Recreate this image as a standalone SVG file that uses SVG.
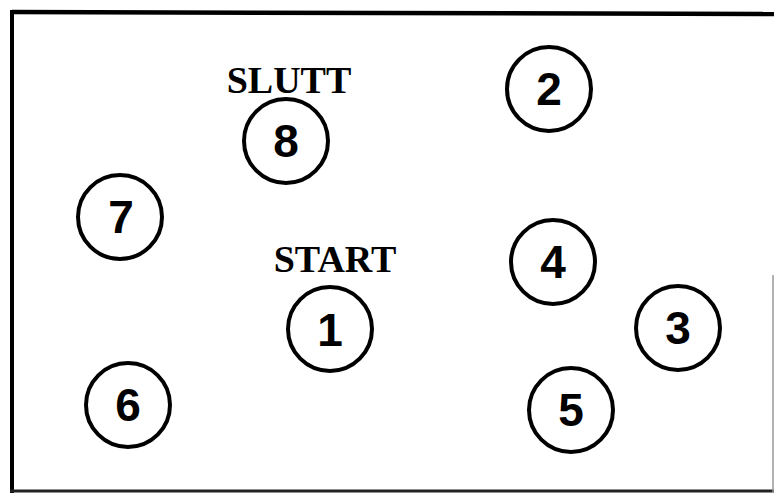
<svg xmlns="http://www.w3.org/2000/svg" width="774" height="493" viewBox="0 0 774 493">
<style>
.node circle{fill:none;stroke:#000;stroke-width:4}
.num{font-family:"Liberation Sans",Arial,sans-serif;font-weight:bold;font-size:46px;text-anchor:middle;fill:#000}
.lbl{font-family:"Liberation Serif","Times New Roman",serif;font-weight:bold;font-size:38px;text-anchor:middle;fill:#000}
</style>
<rect width="774" height="493" fill="#fff"/>
<g id="frame">
<line x1="12" y1="12" x2="774" y2="14" stroke="#000" stroke-width="4.5"/>
<line x1="12" y1="10" x2="12" y2="493" stroke="#000" stroke-width="4"/>
<line x1="10" y1="491" x2="774" y2="491" stroke="#222" stroke-width="3"/>
<line x1="773" y1="275" x2="773" y2="493" stroke="#999" stroke-width="1.5"/>
</g>
<g id="connectors"></g>
<g id="n8" class="node"><text class="lbl" x="289" y="93">SLUTT</text><circle cx="286" cy="141" r="42"/><text class="num" x="286" y="157">8</text></g>
<g id="n2" class="node"><circle cx="549" cy="89" r="42"/><text class="num" x="549" y="105">2</text></g>
<g id="n7" class="node"><circle cx="120" cy="217" r="42"/><text class="num" x="121" y="233">7</text></g>
<g id="n4" class="node"><circle cx="553" cy="262" r="42"/><text class="num" x="553" y="278">4</text></g>
<g id="n1" class="node"><text class="lbl" x="335" y="272">START</text><circle cx="330" cy="329" r="42"/><text class="num" x="330" y="346">1</text></g>
<g id="n3" class="node"><circle cx="678" cy="328" r="42"/><text class="num" x="678" y="344">3</text></g>
<g id="n6" class="node"><circle cx="128" cy="405" r="42"/><text class="num" x="128" y="421">6</text></g>
<g id="n5" class="node"><circle cx="571" cy="410" r="42"/><text class="num" x="571" y="426">5</text></g>
</svg>
